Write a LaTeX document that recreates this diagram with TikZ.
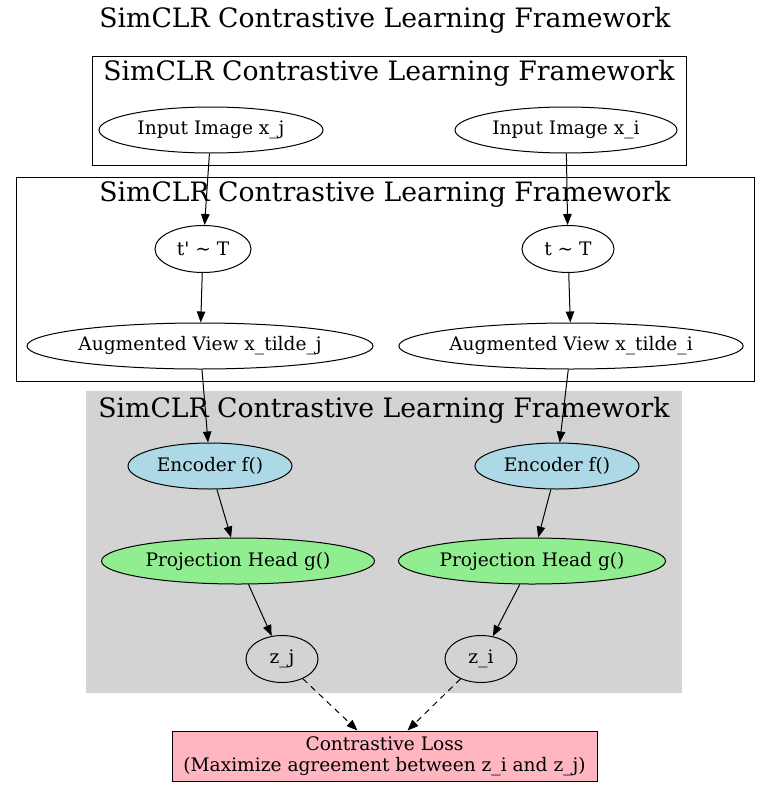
\documentclass[tikz,border=0pt]{standalone}
\usepackage{fontspec}
\setmainfont{DejaVu Serif}
\usetikzlibrary{arrows.meta,shapes.geometric}
\definecolor{lblue}{HTML}{ADD8E6}
\definecolor{lgreen}{HTML}{90EE90}
\definecolor{lpink}{HTML}{FFB6C1}
\definecolor{lgrey}{HTML}{D3D3D3}
\tikzset{
  ttl/.style={font=\fontsize{26.7}{30}\selectfont, inner sep=0},
  ell/.style={ellipse, draw, line width=1pt, inner sep=0, font=\fontsize{18.6}{22}\selectfont},
  clus/.style={draw, line width=1pt},
  arr/.style={-{Triangle[length=11pt,width=8.5pt]}, line width=1pt},
  dsh/.style={dash pattern=on 6pt off 5pt},
}
\begin{document}
\begin{tikzpicture}[x=1pt,y=-1pt]
\useasboundingbox (0,0) rectangle (771,787);
\node[ttl] (title) at (385,20) {SimCLR Contrastive Learning Framework};
% cluster 1
\draw[clus] (92,56) rectangle (686,165);
\node[ttl] (t1) at (389,73) {SimCLR Contrastive Learning Framework};
\node[ell, minimum width=224, minimum height=46] (xj) at (211,130) {Input Image x\_j};
\node[ell, minimum width=222, minimum height=46] (xi) at (566,130) {Input Image x\_i};
% cluster 2
\draw[clus] (16,177) rectangle (754,381);
\node[ttl] (t2) at (385,194) {SimCLR Contrastive Learning Framework};
\node[ell, minimum width=96, minimum height=47] (tj) at (203,249) {t\textquotesingle{} \textasciitilde{} T};
\node[ell, minimum width=92, minimum height=47] (ti) at (568,249) {t \textasciitilde{} T};
\node[ell, minimum width=346, minimum height=46] (aj) at (200,346) {Augmented View x\_tilde\_j};
\node[ell, minimum width=343, minimum height=46] (ai) at (571,346) {Augmented View x\_tilde\_i};
% cluster 3
\fill[lgrey] (86,391) rectangle (682,693);
\node[ttl] (t3) at (384,410) {SimCLR Contrastive Learning Framework};
\node[ell, fill=lblue, minimum width=164, minimum height=46] (ej) at (210,466) {Encoder f()};
\node[ell, fill=lblue, minimum width=164, minimum height=46] (ei) at (557,466) {Encoder f()};
\node[ell, fill=lgreen, minimum width=273, minimum height=46] (pj) at (238,561) {Projection Head g()};
\node[ell, fill=lgreen, minimum width=267, minimum height=46] (pi) at (532,561) {Projection Head g()};
\node[ell, minimum width=72, minimum height=47] (zj) at (282,659) {z\_j};
\node[ell, minimum width=72, minimum height=47] (zi) at (481,659) {z\_i};
% loss
\node[draw, line width=1pt, fill=lpink, minimum width=425, minimum height=50, inner sep=0, align=center,
  font=\fontsize{18.6}{21}\selectfont] (loss) at (384.5,756) {Contrastive Loss\\(Maximize agreement between z\_i and z\_j)};
% edges
\draw[arr] (xj) -- (tj);
\draw[arr] (xi) -- (ti);
\draw[arr] (tj) -- (aj);
\draw[arr] (ti) -- (ai);
\draw[arr] (aj) -- (ej);
\draw[arr] (ai) -- (ei);
\draw[arr] (ej) -- (pj);
\draw[arr] (ei) -- (pi);
\draw[arr] (pj) -- (zj);
\draw[arr] (pi) -- (zi);
\draw[arr, dsh] (zj) -- ([xshift=-27]loss.north);
\draw[arr, dsh] (zi) -- ([xshift=23]loss.north);
\end{tikzpicture}
\end{document}
